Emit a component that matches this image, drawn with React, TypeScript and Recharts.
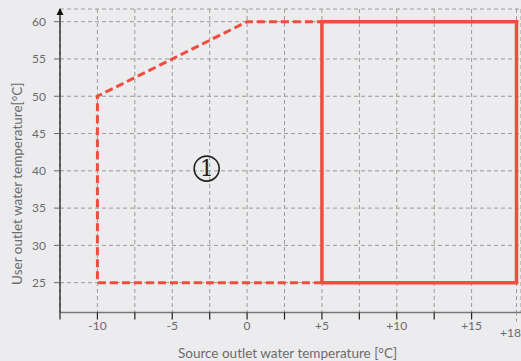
import {
  LineChart, Line, XAxis, YAxis, CartesianGrid, ReferenceDot
} from 'recharts'

const RED = '#ef4e3e'
const TEXT = '#6b6b6b'
const FONT = 'Lato, "Noto Sans", sans-serif'

// dashed boundary of the extended range: (x = source temp, y = user temp)
const dashedX = [5, -10, -10, 0, 5]
const dashedY = [25, 25, 50, 60, 60]
// solid boundary of the standard range
const solidX = [5, 18, 18, 5, 5]
const solidY = [25, 25, 60, 60, 25]

const xTicks = [-12.5, -10, -7.5, -5, -2.5, 0, 2.5, 5, 7.5, 10, 12.5, 15, 18]
const xLabels: Record<string, string> = {
  '-10': '-10', '-5': '-5', '0': '0', '5': '+5', '10': '+10', '15': '+15', '18': '+18',
}
const yTicks = [25, 30, 35, 40, 45, 50, 55, 60]

const zoneX = -2.7
const zoneY = 40.3

const dashedData = dashedX.map((x, i) => ({ x, y: dashedY[i] }))
const solidData = solidX.map((x, i) => ({ x, y: solidY[i] }))

function XTick(props: any) {
  const { x, y, payload } = props
  const v = payload.value
  const label = xLabels[String(v)]
  const last = v === 18
  return (
    <g>
      {last ? (
        <line x1={x} x2={x} y1={y} y2={y + 12} stroke="#999" strokeDasharray="3 3" />
      ) : (
        <line x1={x} x2={x} y1={y} y2={y + 7} stroke="#222" strokeWidth={1.2} />
      )}
      {label && (
        <text x={last ? x + 4.5 : x} y={last ? y + 24 : y + 17} textAnchor={last ? 'end' : 'middle'}
          fill={TEXT} fontSize={12} fontFamily={FONT}>
          {label}
        </text>
      )}
    </g>
  )
}

function YTitle(props: any) {
  const { viewBox } = props
  const cx = viewBox.x + 17
  const cy = viewBox.y + viewBox.height / 2 + 23
  return (
    <text x={cx} y={cy} transform={`rotate(-90, ${cx}, ${cy})`} textAnchor="middle"
      dominantBaseline="central" fill={TEXT} fontSize={13.5} fontFamily={FONT}>
      User outlet water temperature[°C]
    </text>
  )
}

function Arrow(props: any) {
  const { cx, cy } = props
  return <path d={`M${cx},${cy - 1} L${cx - 3.5},${cy + 6} L${cx + 3.5},${cy + 6} Z`} fill="#111" />
}

export default function App() {
  return (
    <div style={{ position: 'absolute', left: 0, top: 0, width: 521, height: 361, background: '#ececee' }}>
      <LineChart width={521} height={361} margin={{ top: 9, right: 0, bottom: 0, left: 0 }}>
        <CartesianGrid stroke="#9a9a9a" strokeDasharray="4 3" />
        <XAxis
          type="number"
          dataKey="x"
          domain={[-12.5, 18.3]}
          ticks={xTicks}
          interval={0}
          height={48.5}
          axisLine={{ stroke: '#777', strokeWidth: 1.5 }}
          tickLine={false}
          tickSize={0}
          tickMargin={0}
          tick={<XTick />}
          allowDataOverflow
          label={{
            value: 'Source outlet water temperature [°C]',
            position: 'insideBottom',
            offset: 3,
            fill: TEXT,
            fontSize: 13.5,
            fontFamily: FONT,
            dx: -3,
          }}
        />
        <YAxis
          type="number"
          domain={[21, 61.7]}
          ticks={yTicks}
          interval={0}
          width={60}
          axisLine={{ stroke: '#111', strokeWidth: 1.2 }}
          tickLine={{ stroke: '#666' }}
          tickSize={6}
          tickMargin={8}
          tick={{ fill: TEXT, fontSize: 12, fontFamily: FONT }}
          allowDataOverflow
          label={<YTitle />}
        />
        <Line
          data={dashedData}
          dataKey="y"
          stroke={RED}
          strokeWidth={3}
          strokeDasharray="8 4"
          dot={false}
          isAnimationActive={false}
        />
        <Line
          data={solidData}
          dataKey="y"
          stroke={RED}
          strokeWidth={3.5}
          dot={false}
          isAnimationActive={false}
        />
        <ReferenceDot
          x={zoneX}
          y={zoneY}
          r={12.5}
          fill="none"
          stroke="#222"
          strokeWidth={1.6}
          label={{ value: '1', position: 'center', fill: '#222', fontSize: 22, fontFamily: 'DejaVu Serif' }}
        />
        <ReferenceDot x={-12.5} y={61.7} ifOverflow="visible" shape={<Arrow />} />
      </LineChart>
    </div>
  )
}
